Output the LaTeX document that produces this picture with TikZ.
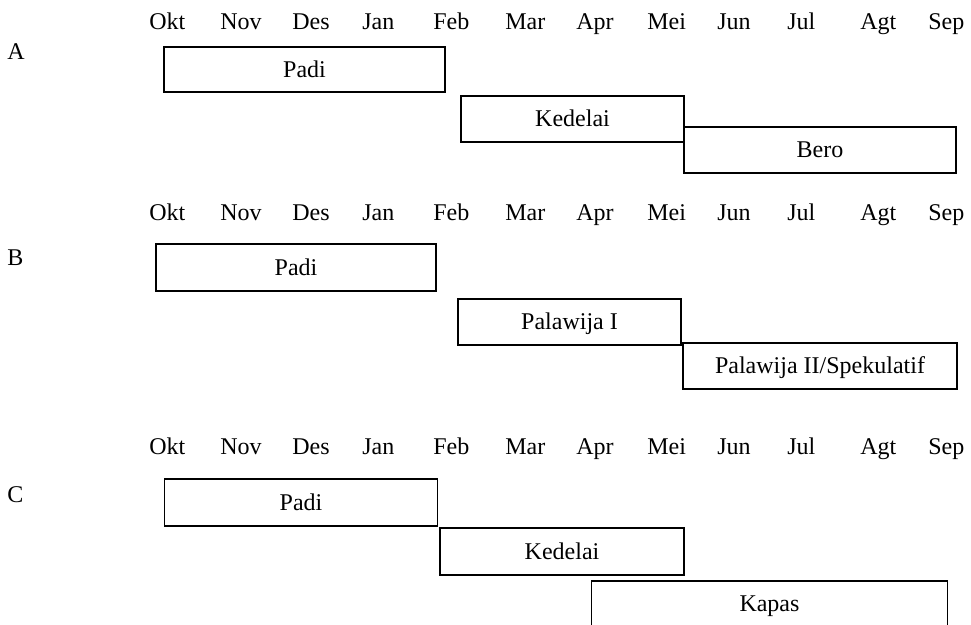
\documentclass[tikz,border=0pt]{standalone}
\usepackage{fontspec}
\setmainfont{Liberation Serif}
\begin{document}
\begin{tikzpicture}[x=0.5pt,y=-0.5pt,
  font=\fontsize{12pt}{14pt}\selectfont,
  month/.style={anchor=base west, inner sep=0pt},
  rowlbl/.style={anchor=base west, inner sep=0pt},
  cropbox/.style={draw, line width=0.8pt, inner sep=0pt, text height=7.9pt, text depth=0pt},
  openbox/.style={inner sep=0pt, text height=7.9pt, text depth=0pt},
  boxline/.style={line width=0.8pt}]
\useasboundingbox[fill=white] (0,0) rectangle (971,625);

% month rows
\foreach \r/\yy in {A/30,B/221,C/455}{
  \foreach \m/\xx [count=\i] in {Okt/149,Nov/220,Des/292,Jan/362,Feb/433,Mar/505,Apr/576,Mei/647,Jun/717,Jul/787,Agt/860,Sep/928}{
    \node[month] (m\r\i) at (\xx,\yy) {\m};
  }
}

% row labels
\node[rowlbl] (lblA) at (7,60) {A};
\node[rowlbl] (lblB) at (7,266) {B};
\node[rowlbl] (lblC) at (7,503) {C};

% A
\node[cropbox, minimum width=140.5pt, minimum height=22.5pt] (padiA) at (304.5,69.5) {Padi};
\node[cropbox, minimum width=111.5pt, minimum height=23pt] (kedA) at (572.5,119) {Kedelai};
\node[cropbox, minimum width=136pt, minimum height=23pt] (beroA) at (820,150) {Bero};

% B
\node[cropbox, minimum width=140pt, minimum height=23.5pt] (padiB) at (296,267.5) {Padi};
\node[cropbox, minimum width=111.5pt, minimum height=23pt] (palB) at (569.5,322) {Palawija I};
\node[cropbox, minimum width=137pt, minimum height=23pt] (pal2B) at (820,366) {Palawija II/Spekulatif};

% C
\node[cropbox, minimum width=136.5pt, minimum height=23.5pt] (padiC) at (301,502.5) {Padi};
\node[cropbox, minimum width=122pt, minimum height=23.5pt] (kedC) at (562,551.5) {Kedelai};
\node[openbox, minimum width=177.5pt, minimum height=22.5pt] (kapC) at (769.5,604) {Kapas};
\draw[boxline] (kapC.west |- 0,625) -- (kapC.north west) -- (kapC.north east) -- (kapC.east |- 0,625);
\end{tikzpicture}
\end{document}
